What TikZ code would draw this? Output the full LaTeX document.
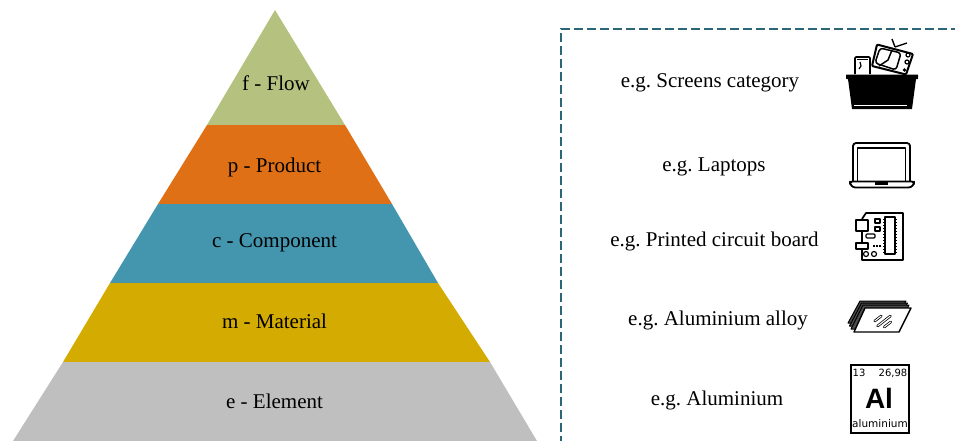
\documentclass[tikz,border=0pt]{standalone}
\usepackage{fontspec}
\setmainfont{Liberation Serif}
\newfontfamily\iconfont{DejaVu Sans}
\newfontfamily\symfont{Liberation Sans}
\definecolor{cflow}{HTML}{B5C27F}
\definecolor{cprod}{HTML}{DF7015}
\definecolor{ccomp}{HTML}{4496AF}
\definecolor{cmat}{HTML}{D4AB00}
\definecolor{cele}{HTML}{BFBFBF}
\definecolor{cdash}{HTML}{2B6777}
\tikzset{
  lab/.style={font=\frenchspacing\fontsize{21}{24}\selectfont,text=black,inner sep=0pt,anchor=base},
  icon/.style={draw=black,line width=1.7pt,line join=round},
  thin icon/.style={draw=black,line width=1.2pt,line join=round},
  small/.style={font=\iconfont\fontsize{10}{11}\selectfont,inner sep=0pt}
}
\begin{document}
\begin{tikzpicture}[x=1pt,y=-1pt]
\useasboundingbox (0,0) rectangle (955,440);
% pyramid
\fill[cflow] (275,10) -- (345,125) -- (207,125) -- cycle;
\fill[cprod] (207,125) -- (345,125) -- (392,204) -- (158,204) -- cycle;
\fill[ccomp] (158,204) -- (392,204) -- (438,283) -- (110,283) -- cycle;
\fill[cmat] (110,283) -- (438,283) -- (490,362) -- (63,362) -- cycle;
\fill[cele] (63,362) -- (490,362) -- (537,441) -- (13,441) -- cycle;
\node[lab] (f) at (276,90) {f - Flow};
\node[lab] (p) at (274.5,172) {p - Product};
\node[lab] (c) at (274.5,247) {c - Component};
\node[lab] (m) at (274.5,328) {m - Material};
\node[lab] (e) at (274.5,408) {e - Element};
% dashed frame
\draw[cdash,line width=2.4pt,dash pattern=on 9pt off 4pt] (561,445) -- (561,29) -- (960,29);
\node[lab] (fe) at (710,87.5) {e.g. Screens category};
\node[lab] (pe) at (714,171.5) {e.g. Laptops};
\node[lab] (ce) at (714.5,246.5) {e.g. Printed circuit board};
\node[lab] (me) at (718,325.5) {e.g. Aluminium alloy};
\node[lab] (ee) at (717,405.5) {e.g. Aluminium};
% basket icon
\fill[black,rounded corners=0.5pt] (846,74.5) -- (918,74.5) -- (918,79) -- (846,79) -- cycle;
\fill[black] (848,79) -- (916,79) -- (912,109) -- (852,109) -- cycle;
\draw[white,line width=1pt] (854,105) -- (907,105);
\draw[icon,rounded corners=1pt] (855,74) -- (855,57) -- (870,57) -- (870,74);
\draw[thin icon] (860,62) -- (861,66) -- (859,69);
\draw[line width=1.4pt] (857,59.5) -- (868,59.5);
\draw[icon,fill=white,rounded corners=1pt,line width=2pt] (877,44.5) -- (913,54) -- (906,74.5) -- (872,66) -- cycle;
\draw[thin icon,rounded corners=3pt,line width=1.5pt] (880,48) -- (901,53) -- (896,70) -- (875,63) -- cycle;
\draw[line width=1.5pt] (892,50) -- (888,60) -- (879,66);
\draw[line width=1.4pt] (895,47) -- (892,39) (895,47) -- (907,43);
\draw[line width=1.2pt] (908,55) circle (2pt) (907,62) circle (2pt);
\fill (904.5,70) circle (1.8pt);
% laptop icon
\draw[icon,rounded corners=3pt,line width=1.8pt] (853,181) -- (853,143) -- (910,143) -- (910,181);
\draw[thin icon,line width=1.5pt] (857.5,181) -- (857.5,148) -- (905.5,148) -- (905.5,181);
\draw[icon,rounded corners=2.5pt,line width=1.8pt] (850,181.5) -- (914,181.5) -- (914,184) -- (911,187.5) -- (853,187.5) -- (850,184) -- cycle;
\fill (875,182) rectangle (888,184.5);
% pcb icon
\draw[icon] (862,219) -- (866,213) -- (903,213) -- (903,260) -- (862,260) -- (862,249);
\draw[icon] (862,231) -- (862,243);
\draw[icon,fill=white] (856,220) rectangle (868,231);
\draw[icon,fill=white] (856,243) rectangle (868,249);
\draw[thin icon,line width=1.4pt] (885,217) rectangle (895,254);
\foreach \yy in {219,222,...,252} {
  \draw[line width=1pt] (883,\yy) -- (885,\yy) (895,\yy) -- (897,\yy);
}
\draw[thin icon] (875,219) rectangle (880,223);
\draw[thin icon] (875,227) rectangle (880,231);
\draw[thin icon,rounded corners=1pt] (866,234) rectangle (875,238);
\draw[line width=1.3pt,dash pattern=on 1.5pt off 1.5pt] (873,246) -- (881,246);
\draw[thin icon] (866,254) circle (2.5pt) (874,254) circle (2.5pt);
% alloy sheets icon
\draw[icon,fill=black!70,line width=1pt] (860,301) -- (906,301) -- (894,323) -- (848,323) -- cycle;
\draw[icon,fill=black!70,line width=1pt] (861.5,303) -- (907.5,303) -- (895.5,326) -- (849.5,326) -- cycle;
\draw[icon,fill=black!70,line width=1pt] (863,305) -- (909,305) -- (897,329) -- (851,329) -- cycle;
\draw[icon,fill=white,line width=1.4pt] (865,308) -- (911,308) -- (899,332) -- (854,332) -- cycle;
\foreach \a/\b/\l in {878/318.5/5,884/321/9,887.5/324.5/5}{
  \draw[line width=0.6pt,rounded corners=1pt,rotate around={38:(\a,\b)}] (\a-\l,\b-1) rectangle (\a+\l,\b+1);
}
% aluminium icon
\draw[line width=2.2pt] (851,365) rectangle (909,433);
\node[small] (an) at (859,373) {13};
\node[small] (am) at (893,373) {26,98};
\node[font=\symfont\bfseries\fontsize{28}{30}\selectfont,inner sep=0pt] (as) at (879,398) {Al};
\node[font=\iconfont\fontsize{10.5}{12}\selectfont,inner sep=0pt] (al) at (880,424) {aluminium};
\end{tikzpicture}
\end{document}
